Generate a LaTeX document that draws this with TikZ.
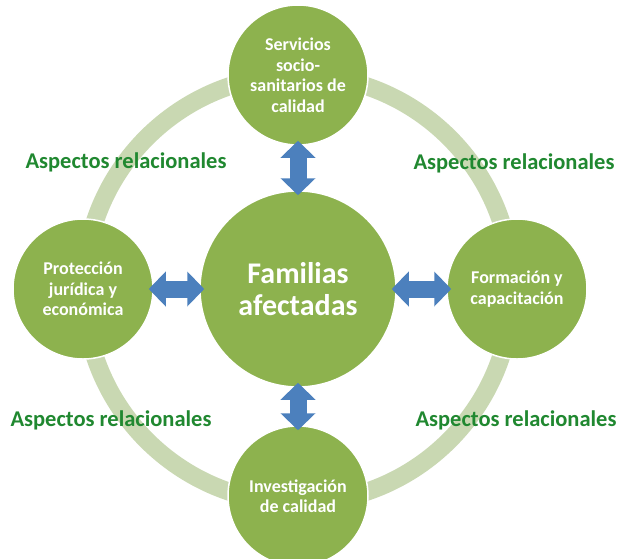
\documentclass[tikz,border=0pt]{standalone}
\usepackage{fontspec}
\setmainfont{Carlito}
\usetikzlibrary{arrows.meta}
\definecolor{circfill}{RGB}{141,178,78}
\definecolor{ringcol}{RGB}{201,216,178}
\definecolor{arrowcol}{RGB}{76,128,189}
\definecolor{lblcol}{RGB}{32,136,48}
\tikzset{
  outer/.style={circle, minimum size=140pt, inner sep=0pt, fill=circfill, draw=white, line width=1.5pt,
    text=white, align=center, font=\bfseries\fontsize{18}{20.5}\selectfont},
  centre/.style={circle, minimum size=196pt, inner sep=0pt, fill=circfill, draw=white, line width=1.5pt,
    text=white, align=center, font=\bfseries\fontsize{30}{32}\selectfont},
  dblarrow/.style={draw=arrowcol, line width=17pt,
    {Triangle[length=17pt,width=34pt,fill=arrowcol]}-{Triangle[length=17pt,width=34pt,fill=arrowcol]},
    shorten <=-5pt, shorten >=-5pt},
  lbl/.style={text=lblcol, font=\bfseries\fontsize{22.5}{25}\selectfont, inner sep=0pt},
  ringstyle/.style={draw=ringcol, line width=18pt}
}
\begin{document}
\begin{tikzpicture}[x=1pt,y=-1pt]
\useasboundingbox (0,0) rectangle (625,558);
\fill[white] (0,0) rectangle (625,558);
\draw[ringstyle] (298,289) circle[radius=214];
\node[centre] (C) at (298,289) {Familias\\afectadas};
\node[outer] (T) at (298,75) {Servicios\\socio-\\sanitarios de\\calidad};
\node[outer] (L) at (83,289) {Protección\\jurídica y\\económica};
\node[outer] (R) at (517,289) {Formación y\\capacitación};
\node[outer] (B) at (298,496) {Investigación\\de calidad};
\draw[dblarrow] (T) -- (C);
\draw[dblarrow] (L) -- (C);
\draw[dblarrow] (C) -- (R);
\draw[dblarrow] (C) -- (B);
\node[lbl] (a1) at (126,162) {Aspectos relacionales};
\node[lbl] (a2) at (514,163) {Aspectos relacionales};
\node[lbl] (a3) at (111,420) {Aspectos relacionales};
\node[lbl] (a4) at (516,420) {Aspectos relacionales};
\end{tikzpicture}
\end{document}
